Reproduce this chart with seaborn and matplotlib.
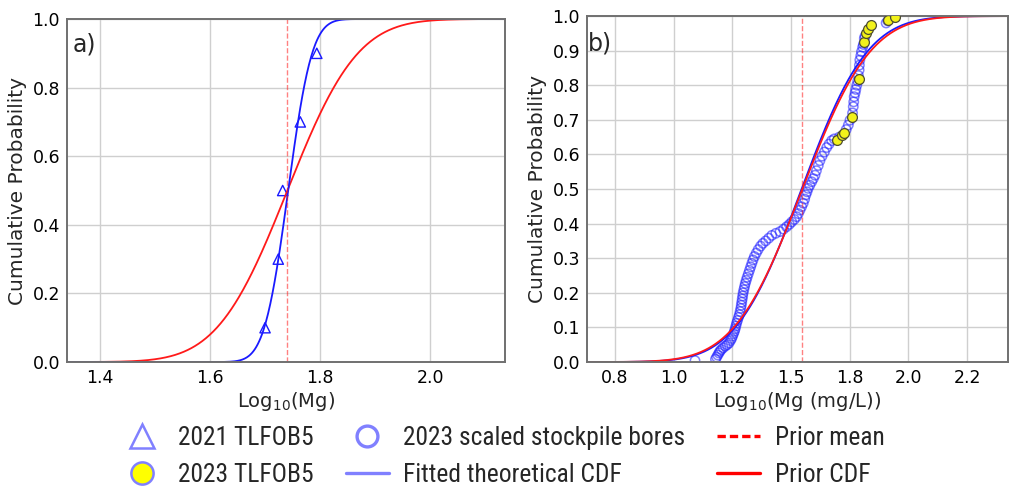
import numpy as np
import pandas as pd
import matplotlib
matplotlib.use("Agg")
import matplotlib.pyplot as plt
from matplotlib.lines import Line2D
from matplotlib import font_manager
from matplotlib.textpath import TextPath
from matplotlib.ticker import MultipleLocator, FormatStrFormatter
import seaborn as sns
from math import erf, sqrt

# ---- panel a) : 2021 TLFOB5 ----
tlfob5_2021_x = [1.700, 1.724, 1.732, 1.764, 1.794]
tlfob5_2021_p = [0.1, 0.3, 0.5, 0.7, 0.9]
prior_a_mean, prior_a_sd = 1.7405, 0.100
fit_a_mean, fit_a_sd = 1.742, 0.034

# ---- panel b) : 2023 scaled stockpile bores + 2023 TLFOB5 ----
bores_x = [1.091, 1.178, 1.183, 1.188, 1.193, 1.197, 1.203, 1.211, 1.220, 1.228,
           1.236, 1.242, 1.247, 1.251, 1.255, 1.259, 1.262, 1.265, 1.268, 1.272,
           1.276, 1.280, 1.283, 1.286, 1.288, 1.290, 1.292, 1.294, 1.296, 1.299,
           1.302, 1.305, 1.309, 1.313, 1.318, 1.323, 1.328, 1.333, 1.338, 1.344,
           1.352, 1.360, 1.370, 1.380, 1.392, 1.405, 1.418, 1.435, 1.453, 1.468,
           1.481, 1.493, 1.503, 1.514, 1.524, 1.531, 1.538, 1.545, 1.552, 1.558,
           1.563, 1.568, 1.573, 1.580, 1.588, 1.595, 1.602, 1.608, 1.616, 1.623,
           1.632, 1.642, 1.652, 1.662, 1.673, 1.684, 1.705, 1.735, 1.744, 1.751,
           1.762, 1.765, 1.767, 1.769, 1.773, 1.776, 1.780, 1.784, 1.787, 1.790,
           1.791, 1.793, 1.797, 1.800, 1.805, 1.808, 1.812, 1.815, 1.905, 1.912]
bores_p = [0.004, 0.008, 0.014, 0.020, 0.026, 0.031, 0.036, 0.041, 0.046, 0.050,
           0.055, 0.062, 0.068, 0.075, 0.082, 0.089, 0.096, 0.104, 0.112, 0.120,
           0.129, 0.137, 0.146, 0.155, 0.164, 0.173, 0.182, 0.191, 0.200, 0.209,
           0.218, 0.227, 0.236, 0.245, 0.255, 0.265, 0.275, 0.285, 0.295, 0.305,
           0.315, 0.325, 0.335, 0.343, 0.350, 0.358, 0.366, 0.372, 0.377, 0.384,
           0.391, 0.398, 0.405, 0.412, 0.420, 0.429, 0.439, 0.449, 0.459, 0.471,
           0.483, 0.492, 0.502, 0.511, 0.521, 0.530, 0.540, 0.553, 0.568, 0.582,
           0.595, 0.607, 0.620, 0.630, 0.640, 0.645, 0.650, 0.672, 0.685, 0.699,
           0.720, 0.738, 0.752, 0.767, 0.778, 0.788, 0.800, 0.812, 0.828, 0.844,
           0.858, 0.873, 0.885, 0.897, 0.910, 0.918, 0.935, 0.942, 0.980, 0.986]
tlfob5_2023_x = [1.697, 1.715, 1.725, 1.758, 1.789, 1.810, 1.819, 1.829, 1.840, 1.914, 1.943]
tlfob5_2023_p = [0.641, 0.655, 0.663, 0.709, 0.817, 0.924, 0.950, 0.962, 0.974, 0.988, 0.996]
prior_b_mean, prior_b_sd = 1.548, 0.228
fit_b_mean, fit_b_sd = 1.545, 0.221

legend_labels = ["2021 TLFOB5", "2023 TLFOB5", "2023 scaled stockpile bores",
                 "Fitted theoretical CDF", "Prior mean", "Prior CDF"]

RED = "#ff1a1a"
BLUE = "#1a1aff"
LEG_BLUE = "#8080ff"
DPI = 100

sns.set_theme(style="whitegrid")
plt.rcParams["font.family"] = ["DejaVu Sans"]


def narrow_font(sample, width_px):
    """A narrow sans face for the legend, sized so `sample` spans width_px."""
    entries = [f for f in font_manager.fontManager.ttflist
               if f.style == "normal" and f.weight in (400, "normal", "regular")]
    fp = None
    for name in ["Liberation Sans Narrow", "Arial Narrow", "Roboto Condensed",
                 "Open Sans Condensed", "Noto Sans Condensed"]:
        hits = [f for f in entries if f.name == name]
        if hits:
            fp = font_manager.FontProperties(fname=hits[0].fname)
            break
    if fp is None:
        for f in entries:
            low = f.fname.lower()
            if ("narrow" in low or "condensed" in low) and "bold" not in low \
                    and "oblique" not in low and "italic" not in low:
                fp = font_manager.FontProperties(fname=f.fname)
                break
    if fp is None:
        fp = font_manager.FontProperties(family="DejaVu Sans")
    fp.set_size(10)
    w_pts = TextPath((0, 0), sample, prop=fp).get_extents().width
    fp.set_size(10 * width_px / (w_pts * DPI / 72.0))
    return fp


def norm_cdf(x, mu, sd):
    return np.array([0.5 * (1.0 + erf((v - mu) / (sd * sqrt(2.0)))) for v in x])


def curve_frame(xlim, mu, sd):
    xs = np.linspace(xlim[0], xlim[1], 600)
    return pd.DataFrame({"x": xs, "p": norm_cdf(xs, mu, sd)})


def style_axes(ax):
    ax.grid(True, color="#cfcfcf", linewidth=1.0)
    for s in ax.spines.values():
        s.set_color("#707070")
        s.set_linewidth(1.4)
    ax.tick_params(axis="both", labelsize=12.5, colors="black", length=3,
                   color="#707070", pad=2)
    ax.set_ylim(0, 1)


fig = plt.figure(figsize=(10.1, 4.9), dpi=DPI)
fig.patch.set_facecolor("white")

# ---------------- panel a ----------------
ax1 = fig.add_axes([0.0663, 0.2612, 0.4337, 0.700])
xlim_a = (1.34, 2.136)
sns.lineplot(data=curve_frame(xlim_a, prior_a_mean, prior_a_sd), x="x", y="p",
             color=RED, linewidth=1.3, ax=ax1)
sns.lineplot(data=curve_frame(xlim_a, fit_a_mean, fit_a_sd), x="x", y="p",
             color=BLUE, linewidth=1.3, ax=ax1)
ax1.axvline(prior_a_mean, color=RED, alpha=0.55, linestyle="--", linewidth=1.0)
sns.scatterplot(x=tlfob5_2021_x, y=tlfob5_2021_p, marker="^", s=55,
                facecolor="none", edgecolor=BLUE, linewidth=1.0, ax=ax1)
ax1.set_xlim(*xlim_a)
ax1.xaxis.set_major_locator(MultipleLocator(0.2))
ax1.yaxis.set_major_locator(MultipleLocator(0.2))
ax1.xaxis.set_major_formatter(FormatStrFormatter("%.1f"))
ax1.yaxis.set_major_formatter(FormatStrFormatter("%.1f"))
style_axes(ax1)
ax1.set_xlabel(r"Log$_{10}$(Mg)", fontsize=14, labelpad=2)
ax1.set_ylabel("Cumulative Probability", fontsize=14.5, labelpad=4)
ax1.text(0.013, 0.925, "a)", transform=ax1.transAxes, fontsize=17, va="center")

# ---------------- panel b ----------------
ax2 = fig.add_axes([0.5812, 0.2612, 0.4168, 0.706])
xlim_b = (0.631, 2.424)
sns.lineplot(data=curve_frame(xlim_b, fit_b_mean, fit_b_sd), x="x", y="p",
             color=BLUE, linewidth=1.3, ax=ax2)
sns.lineplot(data=curve_frame(xlim_b, prior_b_mean, prior_b_sd), x="x", y="p",
             color=RED, linewidth=1.3, ax=ax2)
ax2.axvline(prior_b_mean, color=RED, alpha=0.55, linestyle="--", linewidth=1.0)
sns.scatterplot(x=bores_x, y=bores_p, marker="o", s=45, facecolor="none",
                edgecolor=BLUE, alpha=0.55, linewidth=1.1, ax=ax2)
sns.scatterplot(x=tlfob5_2023_x, y=tlfob5_2023_p, marker="o", s=50,
                color="#f2f21a", edgecolor="#4d4d30", linewidth=0.9, ax=ax2,
                zorder=5)
ax2.set_xlim(*xlim_b)
ax2.xaxis.set_major_locator(MultipleLocator(0.25))
ax2.yaxis.set_major_locator(MultipleLocator(0.1))
ax2.xaxis.set_major_formatter(FormatStrFormatter("%.1f"))
ax2.yaxis.set_major_formatter(FormatStrFormatter("%.1f"))
style_axes(ax2)
ax2.set_xlabel(r"Log$_{10}$(Mg (mg/L))", fontsize=14, labelpad=2)
ax2.set_ylabel("Cumulative Probability", fontsize=14.5, labelpad=4)
ax2.text(0.003, 0.92, "b)", transform=ax2.transAxes, fontsize=17, va="center")

# ---------------- shared legend ----------------
handles = [
    Line2D([], [], linestyle="none", marker="^", markersize=17,
           markerfacecolor="none", markeredgecolor=LEG_BLUE, markeredgewidth=1.8),
    Line2D([], [], linestyle="none", marker="o", markersize=16,
           markerfacecolor="#ffff00", markeredgecolor=LEG_BLUE, markeredgewidth=1.8),
    Line2D([], [], linestyle="none", marker="o", markersize=15,
           markerfacecolor="none", markeredgecolor=LEG_BLUE, markeredgewidth=2.4),
    Line2D([], [], color=LEG_BLUE, linewidth=2.4),
    Line2D([], [], color="#ff0000", linewidth=2.4, linestyle=(0, (2.5, 1.2))),
    Line2D([], [], color="#ff0000", linewidth=2.4),
]
leg_font = narrow_font("2023 scaled stockpile bores", 280)
fig.legend(handles, legend_labels, ncol=3, loc="center",
           bbox_to_anchor=(0.4975, 0.068), frameon=False, prop=leg_font,
           handlelength=1.7, handletextpad=0.55, columnspacing=1.25,
           labelspacing=0.5, borderpad=0.0)

fig.savefig("out.png", dpi=DPI, facecolor="white")
